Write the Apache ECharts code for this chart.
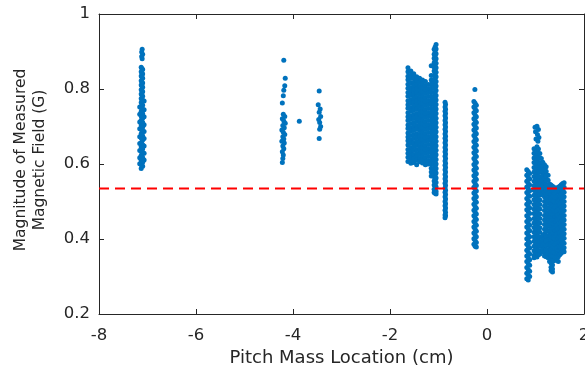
<!DOCTYPE html>
<html><head><meta charset="utf-8">
<script src="https://cdn.jsdelivr.net/npm/echarts@6/dist/echarts.min.js"></script>
<style>html,body{margin:0;padding:0;background:#fff}#c{width:585px;height:373px}</style>
</head><body><div id="c"></div>
<script>
const xTicks = [-8, -6, -4, -2, 0, 2];
const yTicks = [0.2, 0.4, 0.6, 0.8, 1];
const xLabel = 'Pitch Mass Location (cm)';
const yLabel = 'Magnitude of Measured\nMagnetic Field (G)';
const thresholdY = 0.535;

// Sparse clusters as [x, y] points
const clusterA = [[-7.11,0.906],[-7.12,0.899],[-7.10,0.893],[-7.12,0.887],[-7.11,0.881]];
const clusterB = [[-4.19,0.877],[-4.16,0.829],[-4.17,0.809],[-4.19,0.797],[-4.20,0.782],[-4.22,0.763],[-4.20,0.733],
  [-4.17,0.727],[-4.22,0.721],[-4.19,0.715],[-4.16,0.709],[-4.21,0.703],[-4.18,0.697],[-4.23,0.691],[-4.20,0.685],
  [-4.17,0.679],[-4.21,0.673],[-4.19,0.667],[-4.23,0.661],[-4.18,0.656],[-4.21,0.648],[-4.19,0.641],[-4.22,0.633],
  [-4.20,0.624],[-4.21,0.615],[-4.22,0.604]];
const clusterC = [[-3.87,0.714],[-3.46,0.795],[-3.48,0.758],[-3.44,0.747],[-3.46,0.738],[-3.43,0.727],[-3.47,0.719],
  [-3.45,0.711],[-3.43,0.700],[-3.45,0.693],[-3.46,0.668]];
const clusterExtra = [[-0.25,0.799],[0.99,0.698],[1.03,0.701],[1.06,0.692],[1.00,0.686],[1.04,0.679],[1.07,0.671],
  [1.01,0.667],[1.05,0.661]];

// Dense columns: x position and the y values read along each column
const colX = [-7.13,-7.10,-7.16,-7.07,-7.115,
  -1.63,-1.57,-1.51,-1.45,-1.39,-1.33,-1.27,-1.21,-1.15,-1.09,-1.07,-1.05,
  -0.865,-0.855,-0.27,-0.245,-0.22,0.82,0.85,0.88,
  0.97,1.00,1.03,1.06,1.09,1.12,1.15,1.185,1.22,1.26,1.29,1.32,1.35,1.38,1.41,1.44,1.47,1.50,1.53,1.56,1.59];
const colY = [
  [0.858,0.846,0.835,0.822,0.811,0.798,0.787,0.775,0.764,0.751,0.740,0.728,0.717,0.704,0.693,0.681,0.670,0.657,0.646,0.634,0.623,0.610,0.599,0.588],
  [0.852,0.840,0.829,0.816,0.805,0.793,0.781,0.770,0.757,0.746,0.734,0.722,0.711,0.698,0.687,0.675,0.664,0.651,0.640,0.628,0.617,0.605,0.594],
  [0.752,0.733,0.712,0.694,0.673,0.655,0.636,0.617,0.601],
  [0.768,0.745,0.726,0.705,0.687,0.668,0.648,0.629,0.611],
  [0.855,0.843,0.832,0.819,0.808,0.796,0.784,0.772,0.760,0.748,0.737,0.725,0.713,0.701,0.690,0.678,0.667,0.654,0.643,0.631,0.620,0.607,0.596],
  [0.857,0.846,0.834,0.825,0.813,0.802,0.791,0.781,0.769,0.758,0.749,0.737,0.726,0.716,0.704,0.695,0.683,0.672,0.662,0.651,0.639,0.629,0.618,0.607],
  [0.848,0.837,0.828,0.816,0.804,0.795,0.784,0.772,0.763,0.751,0.741,0.729,0.720,0.708,0.697,0.688,0.676,0.665,0.655,0.643,0.633,0.621,0.611,0.602],
  [0.841,0.830,0.818,0.809,0.797,0.786,0.776,0.765,0.754,0.744,0.732,0.722,0.711,0.700,0.690,0.679,0.668,0.657,0.647,0.636,0.625,0.614,0.604],
  [0.833,0.822,0.811,0.800,0.790,0.778,0.768,0.757,0.747,0.735,0.725,0.714,0.703,0.693,0.681,0.671,0.660,0.650,0.639,0.628,0.618,0.610,0.598],
  [0.829,0.818,0.807,0.797,0.786,0.775,0.764,0.754,0.743,0.732,0.722,0.711,0.700,0.690,0.679,0.668,0.658,0.647,0.636,0.626,0.615,0.606],
  [0.824,0.813,0.803,0.792,0.781,0.771,0.760,0.749,0.739,0.728,0.717,0.707,0.696,0.685,0.675,0.664,0.653,0.643,0.632,0.621,0.611,0.603],
  [0.820,0.809,0.798,0.788,0.777,0.766,0.756,0.745,0.734,0.724,0.713,0.702,0.692,0.681,0.670,0.660,0.649,0.638,0.628,0.617,0.607,0.598],
  [0.812,0.801,0.791,0.780,0.769,0.759,0.748,0.737,0.727,0.716,0.705,0.695,0.684,0.673,0.663,0.652,0.641,0.631,0.620,0.609,0.600],
  [0.862,0.836,0.824,0.813,0.803,0.792,0.781,0.771,0.760,0.749,0.739,0.728,0.717,0.707,0.696,0.685,0.675,0.664,0.653,0.643,0.632,0.621,0.611,0.600,0.589,0.579,0.568],
  [0.906,0.893,0.882,0.870,0.859,0.848,0.836,0.825,0.814,0.803,0.791,0.780,0.769,0.758,0.746,0.735,0.724,0.713,0.701,0.690,0.679,0.668,0.656,0.645,0.634,0.623,0.611,0.600,0.589,0.578,0.566,0.555,0.544,0.533,0.524],
  [0.912,0.899,0.887,0.876,0.863,0.851,0.839,0.827,0.815,0.802,0.790,0.778,0.766,0.753,0.741,0.729,0.717,0.704,0.692,0.680,0.668,0.655,0.643,0.631,0.619,0.606,0.594,0.582,0.570,0.557,0.545,0.533,0.522],
  [0.919,0.907,0.894,0.881,0.869,0.857,0.845,0.833,0.820,0.808,0.796,0.783,0.771,0.759,0.747,0.735,0.722,0.710,0.698,0.686,0.673,0.661,0.649,0.637,0.625,0.612,0.600,0.588,0.576,0.563,0.551,0.539,0.527,0.520],
  [0.765,0.752,0.741,0.729,0.716,0.705,0.693,0.680,0.669,0.657,0.644,0.633,0.621,0.608,0.597,0.585,0.572,0.561,0.549,0.536,0.525,0.513,0.500,0.489,0.477,0.464,0.457],
  [0.759,0.746,0.735,0.723,0.710,0.699,0.687,0.674,0.663,0.651,0.638,0.627,0.615,0.602,0.591,0.579,0.566,0.555,0.543,0.530,0.519,0.507,0.494,0.483,0.471,0.462],
  [0.767,0.752,0.737,0.721,0.706,0.691,0.676,0.660,0.645,0.630,0.615,0.599,0.584,0.569,0.554,0.538,0.523,0.508,0.493,0.477,0.462,0.447,0.432,0.416,0.401,0.386],
  [0.762,0.747,0.731,0.716,0.701,0.686,0.670,0.655,0.640,0.625,0.609,0.594,0.579,0.564,0.548,0.533,0.518,0.503,0.487,0.472,0.457,0.442,0.426,0.411,0.396,0.381],
  [0.757,0.742,0.726,0.711,0.696,0.681,0.665,0.650,0.635,0.620,0.604,0.589,0.574,0.559,0.543,0.528,0.513,0.498,0.482,0.467,0.452,0.437,0.421,0.406,0.391,0.379],
  [0.585,0.570,0.554,0.539,0.524,0.508,0.493,0.478,0.462,0.447,0.432,0.416,0.401,0.386,0.370,0.355,0.340,0.324,0.309,0.294],
  [0.580,0.565,0.549,0.534,0.519,0.503,0.488,0.473,0.457,0.442,0.427,0.411,0.396,0.381,0.365,0.350,0.335,0.319,0.304,0.291],
  [0.575,0.560,0.544,0.529,0.514,0.498,0.483,0.468,0.452,0.437,0.422,0.406,0.391,0.376,0.360,0.345,0.330,0.314,0.300],
  [0.641,0.629,0.616,0.604,0.591,0.579,0.567,0.554,0.542,0.530,0.517,0.505,0.492,0.480,0.468,0.455,0.443,0.431,0.418,0.406,0.394,0.381,0.369,0.357,0.350],
  [0.638,0.625,0.613,0.601,0.588,0.576,0.563,0.551,0.539,0.526,0.514,0.502,0.489,0.477,0.464,0.452,0.440,0.427,0.415,0.403,0.390,0.378,0.366,0.355],
  [0.646,0.635,0.622,0.610,0.598,0.585,0.573,0.561,0.548,0.536,0.524,0.511,0.499,0.486,0.474,0.462,0.449,0.437,0.425,0.412,0.400,0.388,0.375,0.363,0.352],
  [0.640,0.628,0.616,0.604,0.591,0.579,0.567,0.554,0.542,0.530,0.517,0.505,0.493,0.480,0.468,0.456,0.443,0.431,0.419,0.406,0.394,0.382,0.369,0.358],
  [0.628,0.616,0.603,0.591,0.579,0.566,0.554,0.541,0.529,0.517,0.504,0.492,0.480,0.467,0.455,0.443,0.430,0.418,0.405,0.393,0.381,0.368,0.360],
  [0.615,0.602,0.590,0.578,0.565,0.553,0.541,0.528,0.520,0.405,0.392,0.380,0.368],
  [0.605,0.593,0.580,0.568,0.556,0.543,0.531,0.520,0.410,0.398,0.386,0.373,0.365],
  [0.598,0.586,0.574,0.562,0.549,0.537,0.525,0.513,0.500,0.488,0.476,0.463,0.451,0.439,0.426,0.414,0.402,0.389,0.377,0.365,0.355],
  [0.593,0.581,0.568,0.556,0.544,0.531,0.519,0.507,0.494,0.482,0.469,0.457,0.445,0.432,0.420,0.408,0.395,0.383,0.371,0.358,0.353],
  [0.570,0.557,0.545,0.533,0.520,0.508,0.496,0.483,0.471,0.459,0.446,0.434,0.422,0.409,0.397,0.385,0.372,0.360,0.350],
  [0.547,0.535,0.522,0.510,0.498,0.485,0.473,0.460,0.448,0.436,0.423,0.411,0.399,0.386,0.374,0.362,0.349,0.340],
  [0.544,0.532,0.519,0.507,0.495,0.482,0.470,0.458,0.445,0.433,0.421,0.408,0.396,0.384,0.371,0.359,0.347,0.336,0.325,0.316],
  [0.541,0.529,0.516,0.504,0.492,0.479,0.467,0.454,0.442,0.430,0.417,0.405,0.393,0.380,0.368,0.355,0.343,0.331,0.320,0.312],
  [0.538,0.525,0.513,0.501,0.488,0.476,0.464,0.451,0.439,0.427,0.414,0.402,0.390,0.377,0.365,0.353,0.342],
  [0.534,0.522,0.510,0.497,0.485,0.473,0.460,0.448,0.435,0.423,0.411,0.398,0.386,0.374,0.361,0.350],
  [0.536,0.524,0.511,0.499,0.487,0.474,0.462,0.450,0.437,0.425,0.413,0.400,0.388,0.376,0.363,0.351,0.344],
  [0.538,0.526,0.513,0.501,0.489,0.476,0.464,0.451,0.439,0.427,0.414,0.402,0.390,0.377,0.365,0.353,0.340],
  [0.541,0.529,0.517,0.504,0.492,0.480,0.467,0.455,0.443,0.430,0.418,0.406,0.393,0.381,0.369,0.358],
  [0.545,0.533,0.521,0.508,0.496,0.484,0.471,0.459,0.446,0.434,0.422,0.409,0.397,0.385,0.372,0.362],
  [0.548,0.536,0.523,0.511,0.499,0.486,0.474,0.462,0.449,0.437,0.425,0.412,0.400,0.388,0.375,0.366],
  [0.550,0.538,0.525,0.513,0.500,0.488,0.476,0.463,0.451,0.439,0.426,0.414,0.402,0.389,0.377,0.366]
];

const points = [].concat(clusterA, clusterB, clusterC, clusterExtra);
colX.forEach((x, i) => colY[i].forEach(y => points.push([x, y])));

const ink = '#262626';
const font = 'DejaVu Sans';
const chart = echarts.init(document.getElementById('c'), null, {renderer: 'canvas'});
const xMin = xTicks[0], xMax = xTicks[xTicks.length - 1];
const yMin = yTicks[0], yMax = yTicks[yTicks.length - 1];
const axisCommon = {
  splitLine: {show: false},
  axisLine: {show: true, onZero: false, lineStyle: {color: ink, width: 1}},
  axisTick: {show: true, inside: true, length: 5, lineStyle: {color: ink, width: 1}}
};
chart.setOption({
  animation: false,
  backgroundColor: '#fff',
  grid: {left: 99, right: 1, top: 14, bottom: 59, containLabel: false, outerBoundsMode: 'none'},
  xAxis: [
    Object.assign({type: 'value', position: 'bottom', min: xMin, max: xMax, interval: 2,
      axisLabel: {color: ink, fontSize: 16.5, fontFamily: font, margin: 13,
        alignMinLabel: 'center', alignMaxLabel: 'center'},
      name: xLabel, nameLocation: 'middle', nameGap: 31,
      nameTextStyle: {color: ink, fontSize: 18, fontFamily: font}}, axisCommon),
    Object.assign({type: 'value', position: 'top', min: xMin, max: xMax, interval: 2,
      axisLabel: {show: false}}, axisCommon)
  ],
  yAxis: [
    Object.assign({type: 'value', position: 'left', min: yMin, max: yMax, interval: 0.2,
      axisLabel: {color: ink, fontSize: 16.5, fontFamily: font, margin: 9}}, axisCommon),
    Object.assign({type: 'value', position: 'right', min: yMin, max: yMax, interval: 0.2,
      axisLabel: {show: false}}, axisCommon)
  ],
  graphic: [{
    type: 'text', x: 30, y: 160, rotation: Math.PI / 2,
    style: {text: yLabel, fill: ink, font: '15.5px "DejaVu Sans"', textAlign: 'center',
      textVerticalAlign: 'middle', lineHeight: 19}
  }],
  series: [
    {type: 'scatter', xAxisIndex: 0, yAxisIndex: 0, data: points, symbol: 'circle', symbolSize: 5,
      itemStyle: {color: '#0072BD', opacity: 1}, silent: true},
    {type: 'line', xAxisIndex: 0, yAxisIndex: 0, data: [[xMin, thresholdY], [xMax, thresholdY]],
      symbol: 'none', lineStyle: {color: '#FF0000', width: 2, type: [10, 6]}, silent: true, z: 5}
  ]
});
</script></body></html>
